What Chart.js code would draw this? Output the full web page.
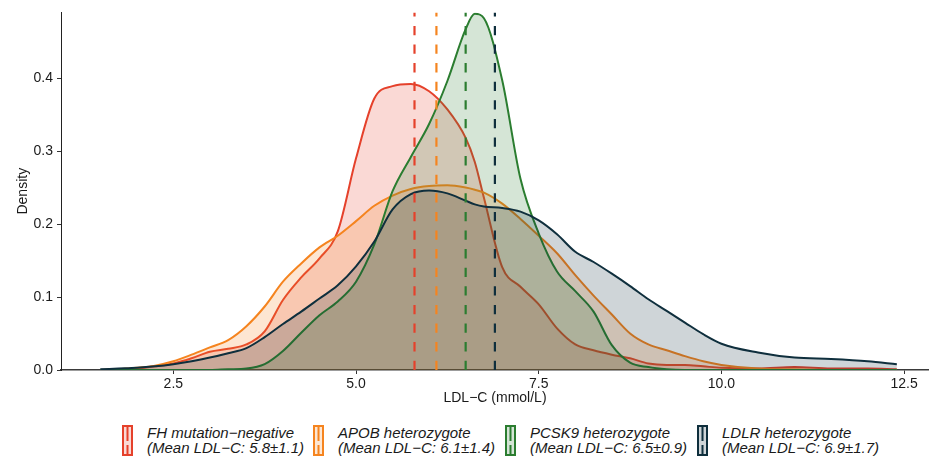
<!DOCTYPE html>
<html>
<head>
<meta charset="utf-8">
<script src="https://cdn.jsdelivr.net/npm/chart.js@4/dist/chart.umd.min.js"></script>
<style>
  html, body { margin: 0; padding: 0; background: #ffffff; }
  #wrap { position: relative; width: 929px; height: 462px; font-family: "Liberation Sans", Arial, sans-serif; }
  #c { position: absolute; left: 0; top: 0; }
  .key { position: absolute; top: 425px; }
  .lab { position: absolute; top: 425px; font-style: italic; font-size: 15px; line-height: 15px; color: #1a1a1a; white-space: nowrap; }
</style>
</head>
<body>
<div id="wrap">
  <canvas id="c" width="929" height="415"></canvas>
</div>
<script>
// LDL-C values (mmol/L) at which the densities are evaluated
const ldlGrid = [1.5, 1.75, 2.0, 2.25, 2.5, 2.75, 3.0, 3.25, 3.5, 3.75, 4.0, 4.25, 4.5, 4.75,
  5.0, 5.25, 5.5, 5.75, 6.0, 6.25, 6.5, 6.625, 6.75, 7.0, 7.25, 7.5, 7.75, 8.0, 8.25, 8.5,
  8.75, 9.0, 9.25, 9.5, 9.75, 10.0, 10.5, 11.0, 11.5, 12.0, 12.4];

// Kernel density of LDL-C per genetic group
const densFH = [0.000, 0.001, 0.002, 0.005, 0.009, 0.016, 0.025, 0.029, 0.035, 0.053, 0.096, 0.127, 0.153, 0.190,
  0.290, 0.372, 0.389, 0.392, 0.382, 0.357, 0.318, 0.285, 0.236, 0.141, 0.114, 0.090, 0.057, 0.035, 0.027, 0.021,
  0.016, 0.009, 0.007, 0.007, 0.005, 0.003, 0.002, 0.004, 0.002, 0.002, 0.001];
const densAPOB = [0.000, 0.001, 0.003, 0.006, 0.012, 0.021, 0.031, 0.041, 0.060, 0.087, 0.121, 0.146, 0.168, 0.184,
  0.204, 0.225, 0.239, 0.248, 0.252, 0.253, 0.250, 0.247, 0.243, 0.228, 0.207, 0.184, 0.160, 0.130, 0.102, 0.076,
  0.050, 0.035, 0.027, 0.019, 0.012, 0.007, 0.002, 0.001, 0.000, 0.000, 0.000];
const densPCSK9 = [0.000, 0.000, 0.000, 0.000, 0.000, 0.000, 0.000, 0.001, 0.002, 0.008, 0.026, 0.051, 0.075, 0.094,
  0.121, 0.172, 0.245, 0.292, 0.337, 0.396, 0.467, 0.488, 0.482, 0.397, 0.262, 0.187, 0.135, 0.108, 0.080, 0.034,
  0.010, 0.004, 0.001, 0.000, 0.000, 0.000, 0.000, 0.000, 0.000, 0.000, 0.000];
const densLDLR = [0.001, 0.002, 0.003, 0.005, 0.008, 0.012, 0.017, 0.023, 0.030, 0.045, 0.063, 0.080, 0.098, 0.116,
  0.142, 0.176, 0.220, 0.241, 0.246, 0.242, 0.232, 0.227, 0.224, 0.222, 0.217, 0.205, 0.186, 0.162, 0.148, 0.132,
  0.115, 0.097, 0.081, 0.065, 0.049, 0.036, 0.024, 0.017, 0.015, 0.012, 0.008];

// Group labels and summary statistics
const groupNames = ["FH mutation\u2212negative", "APOB heterozygote", "PCSK9 heterozygote", "LDLR heterozygote"];
const groupMeans = [5.8, 6.1, 6.5, 6.9];
const groupSDs = [1.1, 1.4, 0.9, 1.7];

// Axis ticks
const xTicks = [2.5, 5.0, 7.5, 10.0, 12.5];
const yTicks = [0.0, 0.1, 0.2, 0.3, 0.4];

const lineColors = ["#e5412b", "#f5841f", "#2b7d30", "#0f2f3d"];
const fillColors = ["rgba(229,65,43,0.2)", "rgba(245,132,31,0.2)", "rgba(43,125,48,0.2)", "rgba(15,47,61,0.2)"];
const densities = [densFH, densAPOB, densPCSK9, densLDLR];
const Y_MAX = 0.49;

const datasets = [];
densities.forEach((d, g) => {
  datasets.push({
    label: groupNames[g],
    data: ldlGrid.map((x, i) => ({ x: x, y: d[i] })),
    borderColor: lineColors[g],
    backgroundColor: fillColors[g],
    borderWidth: 2,
    fill: "origin",
    pointRadius: 0,
    cubicInterpolationMode: "monotone",
    order: 4 - g
  });
});
// dashed mean lines, drawn above all densities
groupMeans.forEach((m, g) => {
  datasets.push({
    label: groupNames[g] + " mean",
    data: [{ x: m, y: 0 }, { x: m, y: Y_MAX }],
    borderColor: lineColors[g],
    borderWidth: 2.2,
    borderDash: [9.3, 9.3],
    fill: false,
    pointRadius: 0,
    order: 0
  });
});

const tickFont = { family: "'Liberation Sans', Arial, sans-serif", size: 14 };

new Chart(document.getElementById("c"), {
  type: "line",
  data: { datasets: datasets },
  options: {
    responsive: false,
    animation: false,
    devicePixelRatio: 1,
    layout: { padding: { top: 9, right: 0, left: 0, bottom: 0 } },
    plugins: { legend: { display: false }, tooltip: { enabled: false } },
    scales: {
      x: {
        type: "linear",
        min: 0.963,
        max: 12.84,
        afterBuildTicks: s => { s.ticks = xTicks.map(v => ({ value: v })); },
        afterFit: s => { s.height = 45; },
        ticks: { callback: v => v.toFixed(1), font: tickFont, color: "#1a1a1a", padding: 2, maxRotation: 0 },
        grid: { drawOnChartArea: false, drawTicks: true, tickLength: 4, tickColor: "#333333", tickWidth: 1 },
        border: { display: true, color: "#3a3a3a", width: 1.5 },
        title: { display: true, text: "LDL\u2212C (mmol/L)", font: tickFont, color: "#1a1a1a", padding: { top: 0, bottom: 8 } }
      },
      y: {
        type: "linear",
        min: 0,
        max: Y_MAX,
        afterBuildTicks: s => { s.ticks = yTicks.map(v => ({ value: v })); },
        afterFit: s => { s.width = 61; },
        ticks: { callback: v => v.toFixed(1), font: tickFont, color: "#1a1a1a", padding: 4 },
        grid: { drawOnChartArea: false, drawTicks: true, tickLength: 4, tickColor: "#333333", tickWidth: 1 },
        border: { display: true, color: "#222222", width: 1 },
        title: { display: true, text: "Density", font: tickFont, color: "#1a1a1a", padding: { top: 15, bottom: 0 } }
      }
    }
  }
});

// Legend below the plot: key with box and dashed mean line, two-line italic label
const keyLeft = [122, 313, 505, 697];
const wrap = document.getElementById("wrap");
groupNames.forEach((name, g) => {
  const svgNS = "http://www.w3.org/2000/svg";
  const svg = document.createElementNS(svgNS, "svg");
  svg.setAttribute("width", "11");
  svg.setAttribute("height", "31");
  svg.setAttribute("class", "key");
  svg.style.left = keyLeft[g] + "px";
  const rect = document.createElementNS(svgNS, "rect");
  rect.setAttribute("x", "1"); rect.setAttribute("y", "1");
  rect.setAttribute("width", "9"); rect.setAttribute("height", "29");
  rect.setAttribute("fill", fillColors[g]);
  rect.setAttribute("stroke", lineColors[g]);
  rect.setAttribute("stroke-width", "2");
  svg.appendChild(rect);
  const line = document.createElementNS(svgNS, "line");
  line.setAttribute("x1", "5.5"); line.setAttribute("x2", "5.5");
  line.setAttribute("y1", "1"); line.setAttribute("y2", "30");
  line.setAttribute("stroke", lineColors[g]);
  line.setAttribute("stroke-width", "2");
  line.setAttribute("stroke-dasharray", "15 4 10");
  svg.appendChild(line);
  wrap.appendChild(svg);

  const lab = document.createElement("div");
  lab.className = "lab";
  lab.style.left = (keyLeft[g] + 25) + "px";
  lab.innerHTML = name + "<br>(Mean LDL\u2212C: " + groupMeans[g].toFixed(1) + "\u00b1" + groupSDs[g].toFixed(1) + ")";
  wrap.appendChild(lab);
});
</script>
</body>
</html>
